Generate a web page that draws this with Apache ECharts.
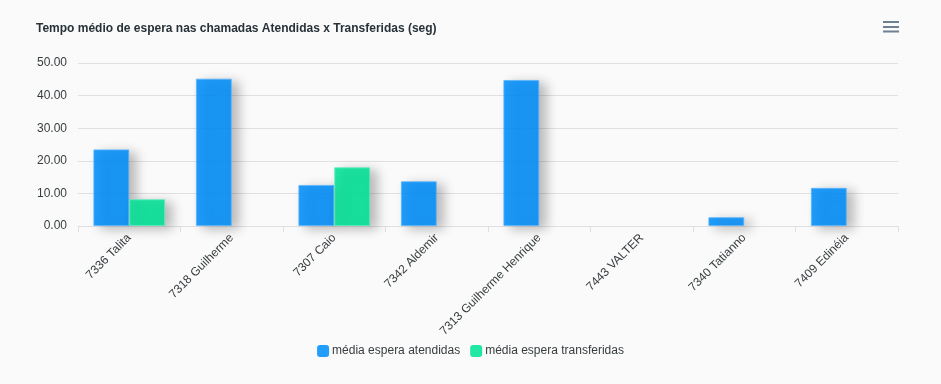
<!DOCTYPE html>
<html><head><meta charset="utf-8">
<script src="https://cdn.jsdelivr.net/npm/echarts@6/dist/echarts.min.js"></script>
<style>html,body{margin:0;padding:0;background:#fafafa;}#c{width:941px;height:384px;}</style>
</head><body><div id="c"></div>
<script>
const categories = ['7336 Talita','7318 Guilherme','7307 Caio','7342 Aldemir','7313 Guilherme Henrique','7443 VALTER','7340 Tatianno','7409 Edinéia'];
const atendidas = [23.5, 45.2, 12.6, 13.7, 44.8, 0, 2.7, 11.7];
const transferidas = [8.2, 0, 18.0, 0, 0, 0, 0, 0];
const seriesNames = ['média espera atendidas','média espera transferidas'];
const yTicks = {min:0, max:50, interval:10};

const chart = echarts.init(document.getElementById('c'));
const shadow = {shadowColor:'rgba(0,0,0,0.3)', shadowBlur:12, shadowOffsetX:7, shadowOffsetY:3};
const toItems = arr => arr.map(v => ({value:v, itemStyle: v === 0 ? {borderWidth:0, shadowBlur:0, shadowOffsetX:0, shadowOffsetY:0} : {}}));
chart.setOption({
  backgroundColor:'#fafafa',
  animation:false,
  title:{text:'Tempo médio de espera nas chamadas Atendidas x Transferidas (seg)', left:31, top:18,
    textStyle:{fontFamily:'Liberation Sans, Arial, sans-serif', fontSize:12, fontWeight:'bold', color:'#263238'}},
  legend:{bottom:22, left:'center', itemWidth:12, itemHeight:12, itemGap:10,
    icon:'roundRect',
    itemStyle:{borderWidth:0, shadowBlur:0, shadowOffsetX:0, shadowOffsetY:0, shadowColor:'transparent'},
    textStyle:{fontFamily:'Liberation Sans, Arial, sans-serif', fontSize:12, color:'#373d3f', padding:[0,0,0,-2]},
    data:seriesNames},
  grid:{left:78, right:43, top:63, bottom:158},
  xAxis:{type:'category', data:categories,
    axisLine:{lineStyle:{color:'#e0e0e0'}},
    axisTick:{show:true, length:6, lineStyle:{color:'#e0e0e0'}},
    axisLabel:{rotate:45, interval:0, margin:10, fontFamily:'Liberation Sans, Arial, sans-serif', fontSize:12, color:'#373d3f'}},
  yAxis:{type:'value', min:yTicks.min, max:yTicks.max, interval:yTicks.interval,
    axisLabel:{formatter:v=>v.toFixed(2), margin:11, fontFamily:'Liberation Sans, Arial, sans-serif', fontSize:12, color:'#373d3f'},
    splitLine:{lineStyle:{color:'#e0e0e0'}}},
  series:[
    {name:seriesNames[0], type:'bar', data:toItems(atendidas), barGap:'0%', barCategoryGap:'30%',
      itemStyle:Object.assign({color:'rgba(0,143,251,0.87)', borderColor:'rgba(90,180,253,0.8)', borderWidth:1}, shadow)},
    {name:seriesNames[1], type:'bar', data:toItems(transferidas),
      itemStyle:Object.assign({color:'rgba(0,227,150,0.87)', borderColor:'rgba(90,238,190,0.8)', borderWidth:1}, shadow)}
  ],
  graphic:[
    {type:'rect', left:883, top:21, shape:{width:16, height:2}, style:{fill:'#6e8192'}},
    {type:'rect', left:883, top:26, shape:{width:16, height:2}, style:{fill:'#6e8192'}},
    {type:'rect', left:883, top:30.5, shape:{width:16, height:2}, style:{fill:'#6e8192'}}
  ]
});
</script></body></html>
